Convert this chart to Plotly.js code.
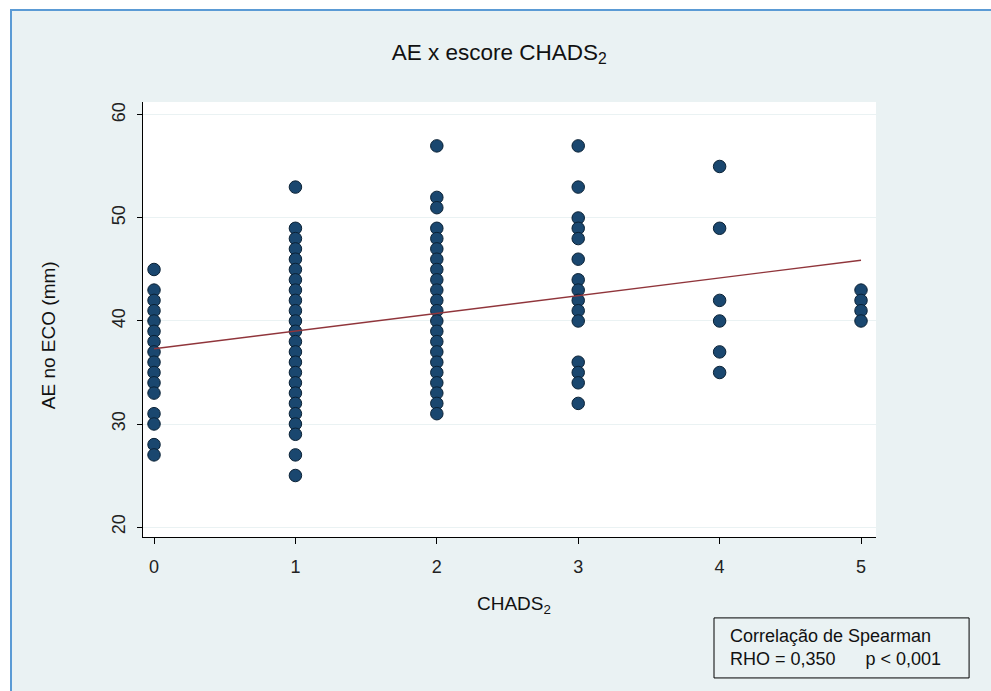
<!DOCTYPE html>
<html>
<head>
<meta charset="utf-8">
<script src="https://cdn.plot.ly/plotly-3.0.1.min.js"></script>
<style>
  html, body { margin: 0; padding: 0; background: #ffffff; width: 991px; height: 691px; overflow: hidden; }
  #frame { position: absolute; left: 10px; top: 9px; width: 981px; height: 682px;
           border-left: 2px solid #5b9bd5; border-top: 2px solid #5b9bd5; background: #eaf2f3; }
  #plot { position: absolute; left: 0; top: 0; width: 979px; height: 680px; }
</style>
</head>
<body>
<div id="frame"><div id="plot"></div></div>
<script>
// AE (mm) values observed at each CHADS2 score
const chadsScores = [0, 1, 2, 3, 4, 5];
const ae0 = [45, 43, 42, 41, 40, 39, 38, 37, 36, 35, 34, 33, 31, 30, 28, 27];
const ae1 = [53, 49, 48, 47, 46, 45, 44, 43, 42, 41, 40, 39, 38, 37, 36, 35, 34, 33, 32, 31, 30, 29, 27, 25];
const ae2 = [57, 52, 51, 49, 48, 47, 46, 45, 44, 43, 42, 41, 40, 39, 38, 37, 36, 35, 34, 33, 32, 31];
const ae3 = [57, 53, 50, 49, 48, 46, 44, 43, 42, 41, 40, 36, 35, 34, 32];
const ae4 = [55, 49, 42, 40, 37, 35];
const ae5 = [43, 42, 41, 40];
// Fitted line endpoints
const fitX = [0, 5];
const fitY = [37.3, 45.9];
const yTicks = [20, 30, 40, 50, 60];
const xTicks = [0, 1, 2, 3, 4, 5];

const groups = [ae0, ae1, ae2, ae3, ae4, ae5];
const px = [], py = [];
groups.forEach((g, i) => g.forEach(v => { px.push(chadsScores[i]); py.push(v); }));

const data = [
  { type: 'scatter', mode: 'markers', x: px, y: py,
    marker: { size: 12.5, color: 'rgb(26,71,111)', line: { color: '#0b2236', width: 1 } },
    hoverinfo: 'x+y', showlegend: false },
  { type: 'scatter', mode: 'lines', x: fitX, y: fitY,
    line: { color: 'rgb(144,53,59)', width: 1.4 }, showlegend: false }
];

const font = 'Liberation Sans, Arial, sans-serif';
const layout = {
  width: 979, height: 680,
  margin: { l: 131, r: 115, t: 91, b: 154 },
  paper_bgcolor: 'rgba(0,0,0,0)',
  plot_bgcolor: '#ffffff',
  font: { family: font, color: '#222222', size: 18 },
  title: { text: 'AE x escore CHADS<sub>2</sub>', font: { family: font, size: 22.5, color: '#111' },
           xref: 'paper', x: 0.486, xanchor: 'center', yref: 'container', y: 0.94, yanchor: 'middle' },
  xaxis: {
    range: [-0.078, 5.106], tickvals: xTicks, ticktext: xTicks.map(String),
    showgrid: false, zeroline: false, showline: true, linecolor: '#000', linewidth: 1,
    ticks: 'outside', ticklen: 6, tickcolor: '#000', tickwidth: 1,
    tickfont: { size: 18, family: font, color: '#222' }, ticklabelstandoff: 7
  },
  yaxis: {
    range: [19.03, 61.26], tickvals: yTicks, ticktext: yTicks.map(String),
    showgrid: true, gridcolor: '#eaf2f3', gridwidth: 1, zeroline: false,
    showline: true, linecolor: '#000', linewidth: 1,
    ticks: 'outside', ticklen: 5, tickcolor: '#000', tickwidth: 1, tickangle: -90,
    tickfont: { size: 18, family: font, color: '#222' }, ticklabelstandoff: 5
  },
  shapes: [
    { type: 'rect', xref: 'paper', yref: 'paper', x0: 0.779, x1: 1.127, y0: -0.186, y1: -0.324,
      line: { color: '#000', width: 1 }, fillcolor: 'rgba(0,0,0,0)' }
  ],
  annotations: [
    { text: 'AE no ECO (mm)', xref: 'paper', yref: 'paper', x: -0.1296, y: 0.464,
      textangle: -90, showarrow: false, xanchor: 'center', yanchor: 'middle',
      font: { family: font, size: 19, color: '#111' } },
    { text: 'CHADS<sub>2</sub>', xref: 'paper', yref: 'paper', x: 0.506, y: -0.156,
      showarrow: false, xanchor: 'center', yanchor: 'middle',
      font: { family: font, size: 19, color: '#111' } },
    { text: 'Correlação de Spearman<br>RHO = 0,350\u00A0\u00A0\u00A0\u00A0\u00A0 p &lt; 0,001',
      xref: 'paper', yref: 'paper', x: 0.7985, y: -0.201, xanchor: 'left', yanchor: 'top',
      align: 'left', showarrow: false, font: { family: font, size: 18, color: '#111' } }
  ]
};

Plotly.newPlot('plot', data, layout, { displayModeBar: false, staticPlot: true });
</script>
</body>
</html>
